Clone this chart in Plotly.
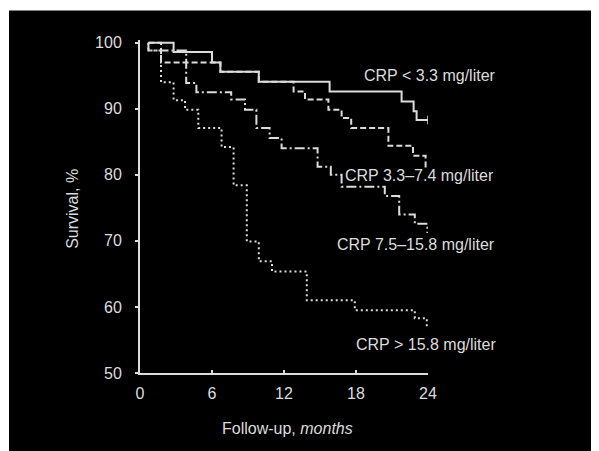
import plotly.graph_objects as go

# ---- data ----
x_ticks = [0, 6, 12, 18, 24]
y_ticks = [50, 60, 70, 80, 90, 100]

# CRP < 3.3 mg/liter (solid)
a_months = [0.7, 2.8, 6.0, 6.7, 9.9, 15.8, 21.8, 22.8, 23.05, 24.0]
a_surv = [100, 98.6, 97.0, 95.6, 94.1, 92.6, 91.1, 89.6, 88.3, 88.3]

# CRP 3.3-7.4 mg/liter (dashed)
b_months = [0.7, 1.75, 6.7, 9.9, 12.8, 13.75, 15.7, 16.8, 17.6, 20.7, 22.75, 23.8]
b_surv = [100, 97.0, 95.6, 94.1, 92.6, 91.4, 89.85, 88.6, 87.1, 84.4, 82.9, 81.0]

# CRP 7.5-15.8 mg/liter (dash-dot)
c_months = [0.7, 0.7, 3.85, 4.7, 7.6, 8.75, 9.7, 10.8, 11.8, 14.8, 15.9, 16.8,
            20.4, 21.6, 22.9, 23.95]
c_surv = [100, 98.8, 93.9, 92.5, 91.4, 89.85, 87.1, 85.55, 84.0, 81.2, 80.0, 78.2,
          76.8, 74.0, 72.6, 71.2]

# CRP > 15.8 mg/liter (dotted)
d_months = [0.7, 0.7, 1.75, 2.8, 3.75, 4.86, 6.8, 7.8, 8.9, 9.9, 11.0, 13.9,
            17.9, 22.9, 23.9]
d_surv = [100, 98.8, 94.0, 91.3, 89.85, 87.1, 84.2, 78.4, 69.9, 66.9, 65.35, 61.0,
          59.5, 58.3, 56.8]

labels = ["CRP &lt; 3.3 mg/liter", "CRP 3.3–7.4 mg/liter",
          "CRP 7.5–15.8 mg/liter", "CRP &gt; 15.8 mg/liter"]
label_x = [18.5, 16.94, 16.25, 17.8]
label_y = [95.05, 79.9, 69.5, 54.35]

# ---- styling ----
FG = "#dcdcdc"
FONT = "Liberation Sans, Arial, Helvetica, sans-serif"

FIG_W, FIG_H = 591, 443              # page has an 8px body margin
L, T, W, H = 132, 32.4, 288, 332.6   # plot area in figure pixels

fig = go.Figure()
series = [
    (a_months, a_surv, "solid"),
    (b_months, b_surv, "6px,3px"),
    (c_months, c_surv, "10px,3px,2px,3px"),
    (d_months, d_surv, "2px,3px"),
]
for xs, ys, dash in series:
    fig.add_trace(go.Scatter(
        x=xs, y=ys, mode="lines", line=dict(color=FG, width=2, dash=dash, shape="hv"),
        showlegend=False, hoverinfo="skip"))

# censor tick at end of the top curve
fig.add_trace(go.Scatter(
    x=[a_months[-1]], y=[a_surv[-1]], mode="markers",
    marker=dict(symbol="line-ns", size=6, line=dict(color=FG, width=1.5)),
    showlegend=False, hoverinfo="skip"))

for t, x, y in zip(labels, label_x, label_y):
    fig.add_annotation(x=x, y=y, text=t, showarrow=False, xanchor="left",
                       yanchor="middle", font=dict(family=FONT, size=16, color=FG))

# axis titles
fig.add_annotation(xref="paper", yref="paper", x=(73 - 140) / W, y=0.493,
                   text="Survival, %", textangle=-90, showarrow=False,
                   xanchor="center", yanchor="middle",
                   font=dict(family=FONT, size=16, color=FG))
fig.add_annotation(xref="paper", yref="paper", x=0.512, y=-55 / H,
                   text="Follow-up, <i>months</i>", showarrow=False,
                   xanchor="center", yanchor="middle",
                   font=dict(family=FONT, size=16, color=FG))

# thin white strips (left and top) of the page around the black photo
fig.add_shape(type="rect", xref="paper", yref="paper", x0=-0.7, x1=(1 - L) / W,
              y0=-0.6, y1=1.6, fillcolor="white", line=dict(width=0), layer="below")
fig.add_shape(type="rect", xref="paper", yref="paper", x0=-0.7, x1=1.8,
              y0=1 + (T - 3) / H, y1=1.6, fillcolor="white",
              line=dict(width=0), layer="below")

fig.update_layout(
    width=FIG_W, height=FIG_H,
    margin=dict(l=L, r=FIG_W - L - W, t=T, b=FIG_H - T - H),
    paper_bgcolor="black", plot_bgcolor="black",
    xaxis=dict(range=[0, 24], tickvals=x_ticks, showgrid=False, zeroline=False,
               showline=True, linecolor=FG, linewidth=2, ticks="inside", ticklen=3,
               tickwidth=1.5, tickcolor=FG, ticklabelstandoff=5,
               tickfont=dict(family=FONT, size=16, color=FG)),
    yaxis=dict(range=[50, 100.4], tickvals=y_ticks, showgrid=False, zeroline=False,
               showline=True, linecolor=FG, linewidth=2, ticks="outside", ticklen=3,
               tickwidth=1.5, tickcolor=FG, ticklabelstandoff=10,
               tickfont=dict(family=FONT, size=16, color=FG)),
)

fig.write_html("out.html")
